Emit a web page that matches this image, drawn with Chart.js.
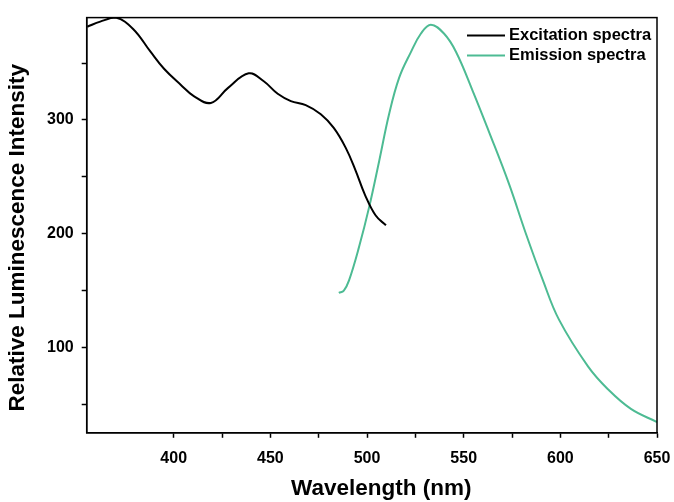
<!DOCTYPE html>
<html>
<head>
<meta charset="utf-8">
<script src="https://cdn.jsdelivr.net/npm/chart.js@4.4.1/dist/chart.umd.min.js"></script>
<style>
  html, body { margin: 0; padding: 0; background: #fff; overflow: hidden; }
  #wrap { width: 674px; height: 502px; }
  canvas { display: block; }
</style>
</head>
<body>
<div id="wrap"><canvas id="specChart" width="674" height="502"></canvas></div>
<script>
// ===== spectra data =====
const excitationNm = [355.3, 362, 370, 379, 388, 395, 403.6, 410.4, 419.2, 428, 438.8, 446.6, 453.8, 460.6, 468.3, 476.1, 482.8, 489, 494, 499, 504.5, 509.8];
const excitationVal = [382, 386.5, 390, 380, 360, 345, 331, 321, 315, 328, 341, 334, 323, 316.6, 313, 305, 293, 275.5, 256, 234, 216, 207.4];

const emissionNm = [485.4, 488, 490.7, 495.9, 501.1, 506.3, 511.4, 516.6, 522.5, 527.9, 533, 539.8, 546, 554.8, 563, 573.4, 582.2, 591, 599.3, 614.3, 624.6, 636.5, 650];
const emissionVal = [148, 150, 159, 188.5, 223.4, 264, 305, 337, 359, 376, 383.8, 376, 360, 325, 290, 244, 200, 159, 124.5, 83.4, 63.3, 46, 34.5];

const seriesLabels = ["Excitation spectra", "Emission spectra"];
const seriesColors = ["#000000", "#4dbb93"];

const xLabels = [400, 450, 500, 550, 600, 650];
const yLabels = [100, 200, 300];

function toPoints(xs, ys) {
    return xs.map((x, i) => ({ x: x, y: ys[i] }));
}

const fontFamily = "'Liberation Sans', Arial, sans-serif";
const nb = "\u00a0";

// frame round the plot area
const frameBox = {
    id: "frameBox",
    afterDraw(chart) {
        const a = chart.chartArea;
        const c = chart.ctx;
        c.save();
        c.strokeStyle = "#000";
        c.lineWidth = 1.5;
        c.strokeRect(a.left, a.top, a.right - a.left, a.bottom - a.top);
        c.restore();
    }
};

// legend drawn inside the plot, top right
const insideLegend = {
    id: "insideLegend",
    afterDraw(chart) {
        const a = chart.chartArea;
        const c = chart.ctx;
        c.save();
        c.font = "bold 16.5px " + fontFamily;
        c.textBaseline = "middle";
        chart.data.datasets.forEach((ds, i) => {
            const y = a.top + 18 + i * 20;
            const x0 = a.right - 190;
            c.strokeStyle = ds.borderColor;
            c.lineWidth = 2;
            c.beginPath();
            c.moveTo(x0, y);
            c.lineTo(x0 + 38, y);
            c.stroke();
            c.fillStyle = "#000";
            c.fillText(ds.label, x0 + 42, y);
        });
        c.restore();
    }
};

const ctx = document.getElementById("specChart").getContext("2d");

new Chart(ctx, {
    type: "line",
    data: {
        datasets: [
            {
                label: seriesLabels[0],
                data: toPoints(excitationNm, excitationVal),
                borderColor: seriesColors[0],
                borderWidth: 2,
                pointRadius: 0,
                tension: 0.4,
                fill: false
            },
            {
                label: seriesLabels[1],
                data: toPoints(emissionNm, emissionVal),
                borderColor: seriesColors[1],
                borderWidth: 2,
                pointRadius: 0,
                tension: 0.4,
                fill: false
            }
        ]
    },
    options: {
        responsive: false,
        animation: false,
        layout: { autoPadding: false, padding: { top: 16, right: 17, left: 4, bottom: 0 } },
        plugins: {
            legend: { display: false },
            tooltip: { enabled: false }
        },
        scales: {
            x: {
                type: "linear",
                min: 355,
                max: 650,
                afterBuildTicks: (axis) => {
                    axis.ticks = axis.ticks.filter(t => t.value % 25 === 0);
                },
                afterFit: (axis) => {
                    axis.paddingLeft = 0;
                    axis.paddingRight = 0;
                },
                ticks: {
                    stepSize: 25,
                    autoSkip: false,
                    maxRotation: 0,
                    color: "#000",
                    padding: 11,
                    font: { family: fontFamily, size: 16, weight: "bold" },
                    callback: (v) => xLabels.includes(v) ? String(v) : ""
                },
                grid: { drawOnChartArea: false, tickLength: 5, color: "#000", tickWidth: 1.5 },
                border: { color: "#000", width: 1.5 },
                title: {
                    display: true,
                    text: nb + nb + nb + "Wavelength (nm)",
                    color: "#000",
                    padding: { top: -4, bottom: 0 },
                    font: { family: fontFamily, size: 22.5, weight: "bold" }
                }
            },
            y: {
                type: "linear",
                min: 25,
                max: 390,
                afterBuildTicks: (axis) => {
                    axis.ticks = axis.ticks.filter(t => t.value % 50 === 0);
                },
                ticks: {
                    stepSize: 50,
                    autoSkip: false,
                    color: "#000",
                    padding: 8,
                    font: { family: fontFamily, size: 16, weight: "bold" },
                    callback: (v) => yLabels.includes(v) ? String(v) : ""
                },
                grid: { drawOnChartArea: false, tickLength: 5, color: "#000", tickWidth: 1.5 },
                border: { color: "#000", width: 1.5 },
                title: {
                    display: true,
                    text: "Relative Luminescence Intensity" + nb + nb + nb + nb,
                    color: "#000",
                    padding: { top: 0, bottom: 8 },
                    font: { family: fontFamily, size: 22.5, weight: "bold" }
                }
            }
        }
    },
    plugins: [frameBox, insideLegend]
});
</script>
</body>
</html>
